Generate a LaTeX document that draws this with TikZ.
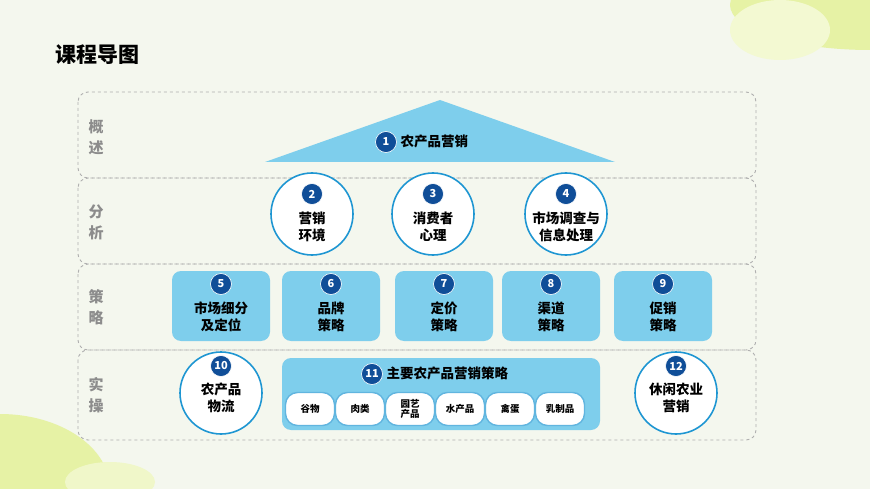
\documentclass[tikz,border=0pt]{standalone}
\usepackage{fontspec}
\setmainfont{Noto Sans CJK SC}
\usetikzlibrary{shapes.geometric}
\definecolor{bgcolor}{RGB}{244,247,238}
\definecolor{blobcolor}{RGB}{230,242,165}
\definecolor{rowline}{RGB}{175,175,175}
\definecolor{rowtext}{RGB}{140,140,140}
\definecolor{boxfill}{RGB}{126,206,236}
\definecolor{ringcolor}{RGB}{30,150,210}
\definecolor{numcolor}{RGB}{16,78,152}
\begin{document}
\begin{tikzpicture}[
  yscale = -1,
  rowbox/.style = {draw=rowline,dashed,line width=0.9pt,rounded corners=10pt},
  rowlabel/.style = {color=rowtext,font=\bfseries\fontsize{15}{21}\selectfont,align=center},
  numdot/.style = {circle,fill=numcolor,draw=white,line width=0.6pt,minimum size=21pt,inner sep=0pt,text=white,font=\bfseries\fontsize{11}{11}\selectfont},
  ring/.style = {circle,draw=ringcolor,fill=white,line width=1.6pt,minimum size=82pt,inner sep=0pt},
  tile/.style = {fill=boxfill,rounded corners=9pt},
  caption/.style = {font=\bfseries\fontsize{13.5}{17}\selectfont,align=center,text=black},
  roll/.style = {draw=ringcolor!70,fill=white,line width=1.4pt,rounded corners=12pt,minimum width=49pt,minimum height=33pt,inner sep=0pt,font=\bfseries\fontsize{9.5}{10.5}\selectfont,align=center},
]
  \useasboundingbox (0pt,0pt) rectangle (870pt,489pt);
  \fill[bgcolor] (0pt,0pt) rectangle (870pt,489pt);
  % blobs
  \begin{scope}
    \clip (0pt,0pt) rectangle (870pt,489pt);
    \fill[blobcolor] (870pt,5pt) ellipse (140pt and 45pt);
    \fill[blobcolor!50] (780pt,30pt) ellipse (50pt and 30pt);
    \fill[blobcolor] (0pt,489pt) ellipse (110pt and 75pt);
    \fill[blobcolor!60] (110pt,482pt) ellipse (45pt and 20pt);
  \end{scope}
  \node[anchor=west,font=\bfseries\fontsize{21}{24}\selectfont] (title) at (52pt,55pt) {课程导图};
  % rows
  \draw[rowbox] (78pt,92pt) rectangle (756pt,178pt);
  \draw[rowbox] (78pt,178pt) rectangle (756pt,264pt);
  \draw[rowbox] (78pt,264pt) rectangle (756pt,350pt);
  \draw[rowbox] (78pt,350pt) rectangle (756pt,440pt);
  \node[rowlabel] (lab1) at (96pt,137pt) {概\\述};
  \node[rowlabel] (lab2) at (96pt,222pt) {分\\析};
  \node[rowlabel] (lab3) at (96pt,307pt) {策\\略};
  \node[rowlabel] (lab4) at (96pt,395pt) {实\\操};
  % overview
  \fill[boxfill] (440pt,100pt) -- (615pt,162pt) -- (265pt,162pt) -- cycle;
  \node[numdot] (n1) at (386pt,142pt) {1};
  \node[caption,anchor=west] (t1) at (397pt,141pt) {农产品营销};
  % analysis
  \node[ring] (c2) at (312pt,214pt) {};
  \node[ring] (c3) at (433pt,214pt) {};
  \node[ring] (c4) at (566pt,214pt) {};
  \node[numdot] (n2) at (312pt,194pt) {2};
  \node[numdot] (n3) at (433pt,194pt) {3};
  \node[numdot] (n4) at (566pt,194pt) {4};
  \node[caption] (t2) at (312pt,227pt) {营销\\环境};
  \node[caption] (t3) at (433pt,227pt) {消费者\\心理};
  \node[caption] (t4) at (566pt,227pt) {市场调查与\\信息处理};
  % strategy
  \foreach \x/\n/\txt in {221/5/{市场细分\\及定位},331/6/{品牌\\策略},444/7/{定价\\策略},551/8/{渠道\\策略},663/9/{促销\\策略}}{
    \fill[tile] (\x pt-49pt,271pt) rectangle (\x pt+49pt,341pt);
    \node[numdot] (n\n) at (\x pt,284pt) {\n};
    \node[caption] (t\n) at (\x pt,317pt) {\txt};
  }
  % practice
  \node[ring] (c10) at (221pt,393pt) {};
  \node[numdot] (n10) at (221pt,366pt) {10};
  \node[caption] (t10) at (221pt,398pt) {农产品\\物流};
  \node[ring] (c12) at (676pt,393pt) {};
  \node[numdot] (n12) at (676pt,366pt) {12};
  \node[caption] (t12) at (676pt,398pt) {休闲农业\\营销};
  \fill[tile] (282pt,358pt) rectangle (600pt,430pt);
  \node[numdot] (n11) at (372pt,374pt) {11};
  \node[caption,anchor=west] (t11) at (383pt,373pt) {主要农产品营销策略};
  \foreach \x/\k/\txt in {310/a/谷物,360/b/肉类,410/c/{园艺\\产品},460/d/水产品,510/e/禽蛋,560/f/乳制品}{
    \node[roll] (r\k) at (\x pt,409pt) {\txt};
  }
\end{tikzpicture}
\end{document}
